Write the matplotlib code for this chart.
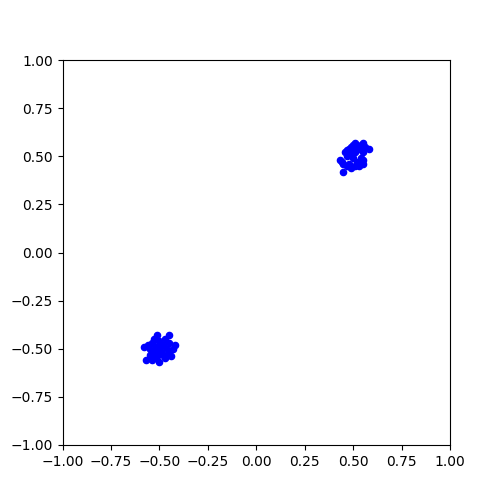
import matplotlib
matplotlib.use("Agg")
import matplotlib.pyplot as plt

upper_x = [0.45, 0.44, 0.43, 0.45, 0.47, 0.48, 0.47, 0.46, 0.47, 0.48, 0.49, 0.50, 0.51, 0.52, 0.53,
           0.54, 0.55, 0.56, 0.58, 0.55, 0.54, 0.55, 0.52, 0.51, 0.53, 0.49, 0.50, 0.51, 0.48, 0.55]
upper_y = [0.42, 0.47, 0.48, 0.46, 0.45, 0.46, 0.50, 0.52, 0.53, 0.54, 0.55, 0.56, 0.57, 0.55, 0.54,
           0.56, 0.57, 0.55, 0.54, 0.52, 0.49, 0.48, 0.47, 0.45, 0.45, 0.44, 0.49, 0.52, 0.51, 0.46]

lower_x = [-0.51, -0.45, -0.47, -0.53, -0.50, -0.54, -0.56, -0.58, -0.55, -0.52, -0.48, -0.45, -0.42, -0.43, -0.46,
           -0.49, -0.53, -0.55, -0.51, -0.48, -0.45, -0.44, -0.47, -0.50, -0.52, -0.57, -0.54, -0.46, -0.50, -0.52]
lower_y = [-0.43, -0.43, -0.45, -0.45, -0.46, -0.47, -0.48, -0.49, -0.50, -0.49, -0.48, -0.47, -0.48, -0.50, -0.50,
           -0.51, -0.52, -0.53, -0.54, -0.53, -0.52, -0.54, -0.55, -0.57, -0.55, -0.56, -0.56, -0.53, -0.48, -0.51]

fig, ax = plt.subplots(figsize=(5, 5), dpi=100)
ax.scatter(upper_x + lower_x, upper_y + lower_y, s=20, color="blue")
ax.set_xlim(-1, 1)
ax.set_ylim(-1, 1)
fig.savefig("out.png")
